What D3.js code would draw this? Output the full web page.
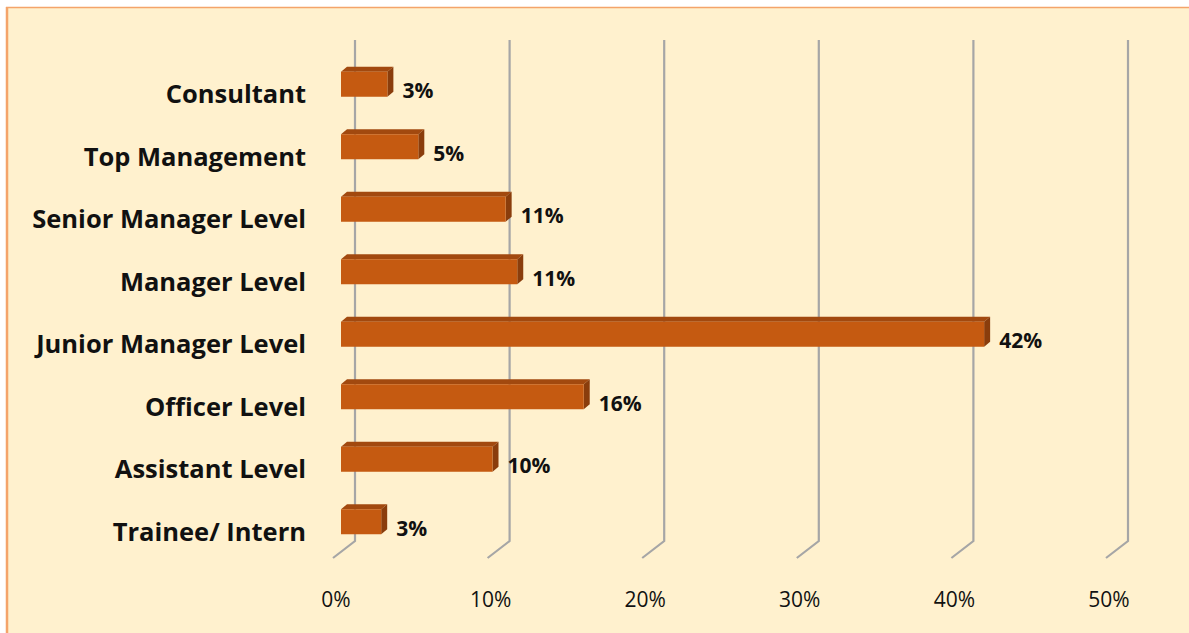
<!DOCTYPE html>
<html>
<head>
<meta charset="utf-8">
<script src="https://cdn.jsdelivr.net/npm/d3@7"></script>
<style>
  body { margin: 0; background: #fff; }
  text { font-family: "Open Sans", Lato, sans-serif; }
</style>
</head>
<body>
<div id="content"></div>
<script>
var categories = ['Consultant', 'Top Management', 'Senior Manager Level', 'Manager Level',
  'Junior Manager Level', 'Officer Level', 'Assistant Level', 'Trainee/ Intern'];
var values = [3.0, 5.0, 10.65, 11.4, 41.6, 15.7, 9.8, 2.6];
var ticks = [0, 10, 20, 30, 40, 50];

var width = 1189, height = 633;
var svg = d3.select('#content').append('svg').attr('width', width).attr('height', height);

// background panel + orange edge
svg.append('rect').attr('x', 6).attr('y', 7).attr('width', width - 6).attr('height', height - 7)
  .style('fill', '#FFF1CE');
svg.append('line').attr('x1', 6).attr('x2', width).attr('y1', 7.5).attr('y2', 7.5)
  .style('stroke', '#F4A46A').style('stroke-width', 1.5);
svg.append('line').attr('x1', 7).attr('x2', 7).attr('y1', 7).attr('y2', height)
  .style('stroke', '#F4A46A').style('stroke-width', 2.5);

var x = d3.scaleLinear().domain([0, 50]).range([355, 1128]);
var y = d3.scaleBand().domain(categories).range([53, 553]).paddingInner(0.6).paddingOuter(0.3);

var wallTop = 40, wallBottom = 541;
var floorDx = -22, floorDy = 17;
var frontDx = -14;   // bars sit part way into the floor
var depthX = 6, depthY = 5;

// gridlines with floor diagonal
svg.selectAll('.grid').data(ticks).enter().append('path')
  .attr('class', 'grid')
  .attr('d', function(d){
    var gx = x(d);
    return 'M' + gx + ',' + wallTop + 'L' + gx + ',' + wallBottom + 'L' + (gx + floorDx) + ',' + (wallBottom + floorDy);
  })
  .style('fill', 'none').style('stroke', '#A6A6A6').style('stroke-width', 2.2);

// tick labels
svg.selectAll('.tick').data(ticks).enter().append('text')
  .attr('class', 'tick')
  .attr('x', function(d){ return x(d) - 19; })
  .attr('y', 607)
  .style('text-anchor', 'middle').style('font-size', '21px').style('fill', '#111')
  .text(function(d){ return d + '%'; });

var bars = svg.selectAll('.bars').data(categories).enter().append('g').attr('class', 'bars');

var barH = 25;
function barX0(){ return x(0) + frontDx; }
function barX1(d, i){ return x(values[i]) + frontDx; }
function barTop(d){ return y(d) + y.bandwidth() / 2 - barH / 2; }

// top face
bars.append('path')
  .attr('d', function(d, i){
    var a = barX0(), b = barX1(d, i), t = barTop(d);
    return 'M' + a + ',' + t + 'L' + (a + depthX) + ',' + (t - depthY) + 'L' + (b + depthX) + ',' + (t - depthY) + 'L' + b + ',' + t + 'Z';
  })
  .style('fill', '#A2490F');

// side face
bars.append('path')
  .attr('d', function(d, i){
    var b = barX1(d, i), t = barTop(d);
    return 'M' + b + ',' + t + 'L' + (b + depthX) + ',' + (t - depthY) + 'L' + (b + depthX) + ',' + (t + barH - depthY) + 'L' + b + ',' + (t + barH) + 'Z';
  })
  .style('fill', '#8A3D0C');

// front face
bars.append('rect')
  .attr('x', barX0)
  .attr('y', barTop)
  .attr('width', function(d, i){ return barX1(d, i) - barX0(); })
  .attr('height', barH)
  .style('fill', '#C55A11');

// value labels
bars.append('text')
  .attr('x', function(d, i){ return barX1(d, i) + 15; })
  .attr('y', function(d){ return barTop(d) + barH / 2 + 14; })
  .style('font-size', '21px').style('font-weight', 'bold').style('fill', '#111')
  .text(function(d, i){ return Math.round(values[i]) + '%'; });

// category labels
svg.selectAll('.cat').data(categories).enter().append('text')
  .attr('class', 'cat')
  .attr('x', 306)
  .attr('y', function(d){ return y(d) + y.bandwidth() / 2 + 19; })
  .style('text-anchor', 'end').style('font-size', '25.5px').style('font-weight', 'bold').style('fill', '#111')
  .text(function(d){ return d; });
</script>
</body>
</html>
